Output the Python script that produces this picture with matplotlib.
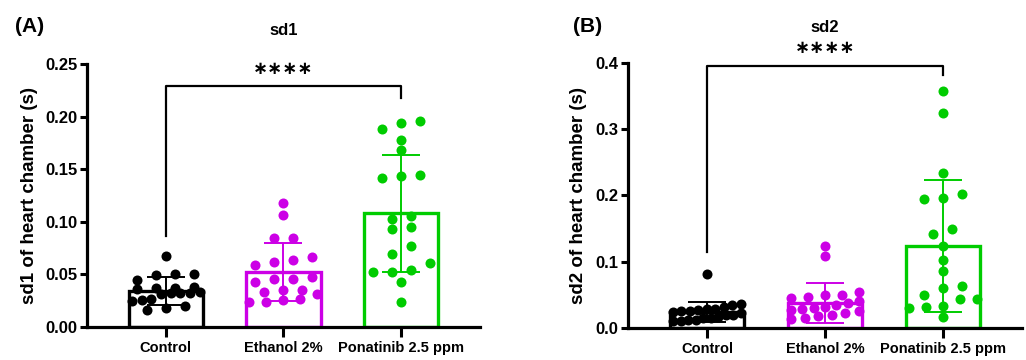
# sd1 / sd2 do coracao: barras (media +- DP) com pontos individuais.

import numpy as np
import matplotlib
matplotlib.use("Agg")
from matplotlib import pyplot as plt

plt.rcParams["font.family"] = ["Liberation Sans", "DejaVu Sans"]
plt.rcParams["font.weight"] = "bold"

grupos = ["Control", "Ethanol 2%", "Ponatinib 2.5 ppm"]
cores = ["#000000", "#cc00e6", "#00cc00"]

sd1_control = [0.068, 0.045, 0.0495, 0.050, 0.050, 0.038, 0.037, 0.037, 0.036, 0.032,
               0.032, 0.033, 0.031, 0.032, 0.026, 0.025, 0.027, 0.018, 0.020, 0.016]
sd1_ethanol = [0.118, 0.107, 0.085, 0.085, 0.067, 0.064, 0.062, 0.059, 0.046, 0.043,
               0.046, 0.048, 0.035, 0.033, 0.031, 0.035, 0.026, 0.024, 0.024, 0.027]
sd1_ponatinib = [0.196, 0.188, 0.194, 0.178, 0.168, 0.142, 0.1435, 0.145, 0.103, 0.106,
                 0.095, 0.093, 0.077, 0.069, 0.061, 0.0526, 0.054, 0.0526, 0.043, 0.024]
sd1_media = [0.034, 0.052, 0.108]
sd1_dp = [0.0135, 0.0275, 0.056]

sd2_control = [0.081, 0.035, 0.036, 0.032, 0.027, 0.028, 0.025, 0.026, 0.022, 0.020,
               0.020, 0.017, 0.015, 0.015, 0.012, 0.012, 0.010, 0.010, 0.024, 0.028]
sd2_ethanol = [0.124, 0.108, 0.055, 0.050, 0.050, 0.045, 0.047, 0.040, 0.038, 0.035,
               0.032, 0.030, 0.028, 0.027, 0.025, 0.022, 0.020, 0.018, 0.015, 0.013]
sd2_ponatinib = [0.358, 0.325, 0.234, 0.194, 0.196, 0.202, 0.149, 0.142, 0.124, 0.103,
                 0.086, 0.060, 0.063, 0.050, 0.043, 0.043, 0.032, 0.030, 0.033, 0.016]
sd2_media = [0.024, 0.038, 0.124]
sd2_dp = [0.015, 0.030, 0.100]

sd1_ticks = [0.00, 0.05, 0.10, 0.15, 0.20, 0.25]
sd2_ticks = [0.0, 0.1, 0.2, 0.3, 0.4]


def deslocamentos(ax, vals, linha_px=9, passo_px=19, meia_px=34):
    # espalha pontos de mesma "linha" horizontalmente (estilo GraphPad)
    vals = np.asarray(vals)
    y_pp = ax.transData.transform((0, 1))[1] - ax.transData.transform((0, 0))[1]
    x_pp = ax.transData.transform((1, 0))[0] - ax.transData.transform((0, 0))[0]
    ordem = np.argsort(vals)
    offs = np.zeros(len(vals))
    linhas = []
    atual = [ordem[0]]
    for i in ordem[1:]:
        if (vals[i] - vals[atual[0]]) * y_pp < linha_px:
            atual.append(i)
        else:
            linhas.append(atual)
            atual = [i]
    linhas.append(atual)
    for lin in linhas:
        n = len(lin)
        if n == 1:
            continue
        sp = min(passo_px, 2 * meia_px / (n - 1))
        for k, i in enumerate(lin):
            offs[i] = (k - (n - 1) / 2) * sp / x_pp
    return offs


def painel(fig, pos, dados, medias, dps, ticks, fmt, ylabel, titulo, letra, x_letra,
           x_ylabel, colchete, y_estrelas, y_titulo):
    ax = fig.add_axes(pos)
    ax.set_xlim(-0.67, 2.67)
    ax.set_ylim(ticks[0], ticks[-1])
    x = np.arange(len(grupos))
    ax.bar(x, medias, width=0.63, color="white", edgecolor=cores, linewidth=2.4, zorder=1)
    for i in range(len(grupos)):
        ax.errorbar(x[i], medias[i], yerr=dps[i], color=cores[i], capsize=14,
                    elinewidth=1.4, capthick=1.4, zorder=2)
        offs = deslocamentos(ax, dados[i])
        ax.scatter(x[i] + offs, dados[i], s=52, color=cores[i], zorder=3,
                   linewidths=0, clip_on=False)
    # colchete de significancia
    y_esq, y_topo, y_dir = colchete
    ax.plot([0, 0, 2, 2], [y_esq, y_topo, y_topo, y_dir], color="black", lw=1.6,
            clip_on=False, zorder=4)
    ax.text(1, y_estrelas, "\u2217\u2217\u2217\u2217", ha="center", va="center",
            fontsize=13, family="DejaVu Sans", fontweight="bold",
            transform=ax.get_xaxis_transform(), clip_on=False)
    ax.text(1, y_titulo, titulo, ha="center", va="center", fontsize=12,
            fontweight="bold", transform=ax.get_xaxis_transform())
    ax.set_xticks(x)
    ax.set_xticklabels(grupos, fontsize=10.5, fontweight="bold")
    ax.set_yticks(ticks)
    ax.set_yticklabels([fmt.format(t) for t in ticks], fontsize=12, fontweight="bold")
    ax.set_ylabel(ylabel, fontsize=13.5, fontweight="bold")
    ax.yaxis.set_label_coords(x_ylabel, 0.5)
    for lado in ("top", "right"):
        ax.spines[lado].set_visible(False)
    for lado in ("left", "bottom"):
        ax.spines[lado].set_linewidth(2.3)
    ax.tick_params(axis="y", length=5, width=2.2, pad=2)
    ax.tick_params(axis="x", length=7, width=2.2, pad=3)
    fig.text(x_letra, 0.925, letra, fontsize=15, fontweight="bold",
             ha="left", va="center")
    return ax


fig = plt.figure(figsize=(10.26, 3.6), dpi=100)
painel(fig, [0.0848, 0.0917, 0.383, 0.730],
       [sd1_control, sd1_ethanol, sd1_ponatinib], sd1_media, sd1_dp, sd1_ticks,
       "{:.2f}", "sd1 of heart chamber (s)", "sd1", "(A)", 0.0148, -0.125,
       (0.087, 0.229, 0.218), 0.981, 1.13)
painel(fig, [0.612, 0.089, 0.384, 0.736],
       [sd2_control, sd2_ethanol, sd2_ponatinib], sd2_media, sd2_dp, sd2_ticks,
       "{:.1f}", "sd2 of heart chamber (s)", "sd2", "(B)", 0.558, -0.103,
       (0.115, 0.395, 0.382), 1.057, 1.135)
fig.savefig("out.png", dpi=100)
plt.close(fig)
